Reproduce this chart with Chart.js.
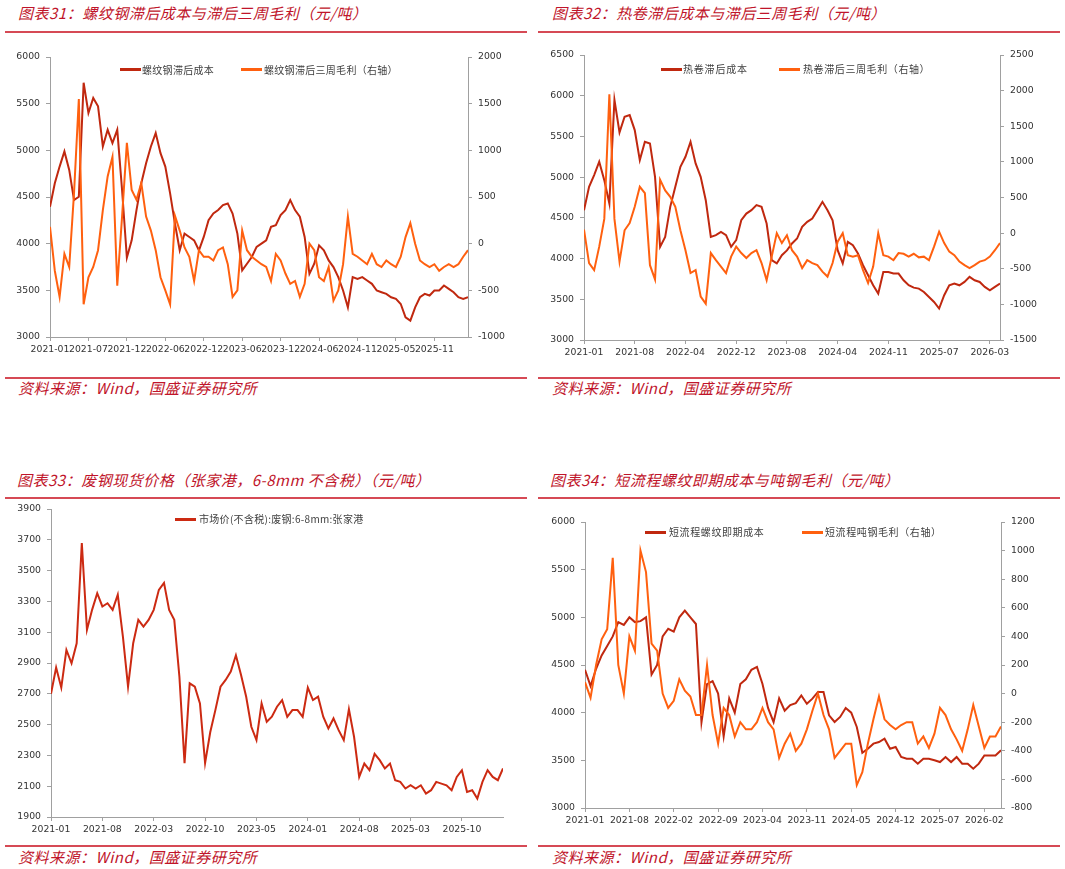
<!DOCTYPE html>
<html><head><meta charset="utf-8">
<script src="https://cdn.jsdelivr.net/npm/chart.js@4.4.1/dist/chart.umd.min.js"></script>
<style>
body{margin:0;background:#fff;width:1065px;height:869px;position:relative;overflow:hidden;font-family:"Noto Sans CJK SC",sans-serif;}
.title,.src{position:absolute;color:#c0142a;font-style:italic;font-size:15px;line-height:18px;white-space:nowrap;letter-spacing:0.5px;}
.rule{position:absolute;height:2px;background:#d64a55;}
canvas{position:absolute;}
.lg{position:absolute;font-size:10px;line-height:12px;color:#404040;white-space:nowrap;letter-spacing:0.3px;}
.sw{position:absolute;height:3px;width:21px;}
</style></head><body>

<div class="title" style="left:18px;top:4px;">图表31：螺纹钢滞后成本与滞后三周毛利（元/吨）</div>
<div class="rule" style="left:5px;top:31px;width:522px;"></div>
<div class="title" style="left:552px;top:4px;">图表32：热卷滞后成本与滞后三周毛利（元/吨）</div>
<div class="rule" style="left:538px;top:31px;width:522px;"></div>
<div class="rule" style="left:5px;top:377px;width:522px;"></div>
<div class="rule" style="left:538px;top:377px;width:522px;"></div>
<div class="src" style="left:18px;top:379px;">资料来源：Wind，国盛证券研究所</div>
<div class="src" style="left:552px;top:379px;">资料来源：Wind，国盛证券研究所</div>

<div class="title" style="left:17px;top:471px;">图表33：废钢现货价格（张家港，6-8mm 不含税）（元/吨）</div>
<div class="rule" style="left:5px;top:497px;width:522px;"></div>
<div class="title" style="left:550px;top:471px;">图表34：短流程螺纹即期成本与吨钢毛利（元/吨）</div>
<div class="rule" style="left:538px;top:497px;width:522px;"></div>
<div class="rule" style="left:5px;top:845px;width:522px;"></div>
<div class="rule" style="left:538px;top:845px;width:522px;"></div>
<div class="src" style="left:18px;top:848px;">资料来源：Wind，国盛证券研究所</div>
<div class="src" style="left:552px;top:848px;">资料来源：Wind，国盛证券研究所</div>

<canvas id="c1" width="532" height="330" style="left:0px;top:40px;"></canvas>
<canvas id="c2" width="533" height="330" style="left:532px;top:40px;"></canvas>
<canvas id="c3" width="532" height="345" style="left:0px;top:495px;"></canvas>
<canvas id="c4" width="533" height="345" style="left:532px;top:495px;"></canvas>

<!-- legends -->
<div class="sw" style="left:120px;top:68px;background:#c0280f;"></div>
<div class="lg" style="left:142px;top:64px;">螺纹钢滞后成本</div>
<div class="sw" style="left:241px;top:68px;background:#ff600f;"></div>
<div class="lg" style="left:264px;top:64px;">螺纹钢滞后三周毛利（右轴）</div>

<div class="sw" style="left:661px;top:68px;background:#c0280f;"></div>
<div class="lg" style="left:683px;top:63px;letter-spacing:0.8px;">热卷滞后成本</div>
<div class="sw" style="left:779px;top:68px;background:#ff600f;"></div>
<div class="lg" style="left:803px;top:63px;letter-spacing:0.6px;">热卷滞后三周毛利（右轴）</div>

<div class="sw" style="left:175px;top:518px;background:#cc2a12;"></div>
<div class="lg" style="left:199px;top:513px;">市场价(不含税):废钢:6-8mm:张家港</div>

<div class="sw" style="left:645px;top:531px;background:#c0280f;"></div>
<div class="lg" style="left:669px;top:526px;letter-spacing:0.6px;">短流程螺纹即期成本</div>
<div class="sw" style="left:802px;top:531px;background:#ff600f;"></div>
<div class="lg" style="left:825px;top:526px;letter-spacing:0.6px;">短流程吨钢毛利（右轴）</div>

<script>
// ---------- data ----------
const p1Ticks = ['2021-01','2021-07','2021-12','2022-06','2022-12','2023-06','2023-12','2024-06','2024-11','2025-05','2025-11'];
const rebarLagCost = [4395,4647,4826,4988,4790,4467,4503,5724,5400,5562,
 5472,5041,5220,5077,5220,4575,3850,4036,4360,4647,
 4862,5041,5185,4970,4826,4539,4216,3929,4108,4072,
 4036,3929,4072,4252,4323,4360,4413,4431,4323,4108,
 3713,3785,3857,3965,4000,4036,4180,4198,4306,4360,
 4467,4360,4288,4072,3677,3785,3982,3929,3821,3749,
 3641,3498,3318,3641,3623,3641,3605,3570,3498,3480,
 3462,3426,3408,3354,3211,3175,3318,3426,3462,3444,
 3498,3498,3552,3516,3480,3426,3408,3426];
const rebarLagMargin = [180,-290,-570,-110,-250,540,1550,-650,-360,-250,
 -70,360,720,930,-450,290,1080,575,470,650,
 290,140,-70,-360,-500,-650,300,140,-40,-140,
 -400,-70,-140,-140,-180,-70,-40,-220,-570,-500,
 140,-70,-140,-180,-220,-250,-400,-110,-180,-320,
 -430,-400,-570,-430,0,-70,-360,-400,-250,-610,
 -500,-220,290,-110,-140,-180,-220,-110,-220,-250,
 -180,-220,-250,-140,70,220,0,-180,-220,-250,
 -220,-290,-250,-220,-250,-220,-140,-70];

const p2Ticks = ['2021-01','2021-08','2022-04','2022-12','2023-08','2024-04','2024-11','2025-07','2026-03'];
const hrcLagCost = [4594,4881,5025,5189,4963,4676,5950,5550,5742,5762,
 5578,5209,5434,5414,5004,4144,4266,4635,4881,5127,
 5250,5434,5168,5004,4717,4266,4287,4328,4287,4144,
 4226,4471,4553,4594,4656,4635,4430,3980,3940,4041,
 4100,4185,4246,4390,4451,4492,4594,4697,4594,4471,
 4103,3940,4205,4164,4062,3918,3795,3672,3570,3836,
 3836,3816,3816,3734,3672,3643,3631,3590,3529,3467,
 3386,3550,3672,3693,3672,3713,3775,3734,3713,3652,
 3611,3652,3693];
const hrcLagMargin = [50,-420,-520,-190,200,1950,200,-400,40,140,
 370,650,560,-450,-650,750,600,510,370,40,
 -240,-560,-520,-890,-990,-280,-380,-470,-560,-330,
 -190,-280,-350,-280,-240,-420,-660,-330,0,-140,
 -30,-240,-330,-490,-380,-420,-450,-540,-610,-420,
 -120,0,-310,-330,-310,-520,-700,-470,0,-310,
 -330,-380,-280,-290,-330,-290,-340,-330,-380,-190,
 20,-140,-260,-310,-400,-450,-490,-450,-400,-380,
 -330,-240,-140];

const p3Ticks = ['2021-01','2021-08','2022-03','2022-10','2023-05','2024-01','2024-08','2025-03','2025-10'];
const scrapPrice = [2700,2870,2740,2985,2898,3028,3679,3115,3245,3353,
 3267,3288,3245,3343,3071,2746,3028,3180,3137,3180,
 3245,3375,3420,3245,3180,2811,2250,2768,2746,2638,
 2250,2450,2594,2746,2790,2844,2950,2822,2681,2486,
 2400,2638,2518,2551,2616,2659,2551,2594,2594,2551,
 2740,2659,2681,2551,2475,2540,2464,2399,2600,2421,
 2160,2247,2204,2310,2269,2215,2247,2139,2128,2085,
 2106,2085,2106,2052,2074,2128,2117,2106,2074,2160,
 2204,2063,2074,2020,2128,2204,2160,2139,2215];

const p4Ticks = ['2021-01','2021-08','2022-02','2022-09','2023-04','2023-11','2024-05','2024-12','2025-07','2026-02'];
const eafRebarCost = [4450,4280,4460,4600,4700,4800,4950,4920,5000,4950,
 4960,5000,4400,4500,4800,4880,4850,5000,5070,5000,
 4930,3900,4300,4330,4200,3750,4150,4000,4300,4350,
 4450,4480,4300,4050,3900,4150,4020,4080,4100,4180,
 4094,4147,4217,4217,3972,3902,3955,4050,4000,3850,
 3580,3622,3675,3692,3727,3622,3640,3535,3517,3517,
 3465,3517,3517,3500,3482,3535,3482,3535,3465,3465,
 3412,3465,3552,3552,3552,3605];
const eafMargin = [80,-30,200,380,450,950,200,0,400,300,
 1000,850,350,300,0,-100,-50,100,20,-20,
 -150,-150,200,-150,-350,-100,-150,-300,-200,-250,
 -250,-200,-100,-200,-250,-450,-350,-280,-400,-350,
 -250,-120,0,-150,-250,-450,-400,-350,-350,-640,
 -550,-350,-180,-20,-180,-220,-250,-220,-200,-200,
 -350,-300,-380,-280,-100,-150,-250,-320,-400,-250,
 -80,-230,-380,-300,-300,-230];

// ---------- style ----------
const DARK = '#c0280f', ORANGE = '#ff600f', SCRAP = '#cc2a12';
const AXIS = '#a0a0a0', TXT = '#333333';
const FONT = {family:'DejaVu Sans', size:9.3};

function pts(arr){ return arr.map((v,i)=>({x:i,y:v})); }

function xAxis(labels, step, max, h){
  return {type:'linear', min:0, max:max,
    afterFit:s=>{s.height=h;},
    grid:{display:true, drawOnChartArea:false, drawTicks:true, tickLength:4, color:AXIS},
    border:{display:true, color:AXIS, width:1},
    ticks:{stepSize:step, autoSkip:false, maxRotation:0, minRotation:0, includeBounds:false,
      padding:3, font:FONT, color:TXT,
      callback:(v)=>{const k=Math.round(v/step); return (Math.abs(v-k*step)<1e-6 && labels[k]!==undefined)?labels[k]:'';}}};
}
function yAxis(pos, min, max, step, w){
  return {type:'linear', position:pos, min:min, max:max,
    afterFit:s=>{s.width=w;},
    grid:{display:true, drawOnChartArea:false, drawTicks:true, tickLength:4, color:AXIS},
    border:{display:true, color:AXIS, width:1},
    ticks:{stepSize:step, autoSkip:false, padding:6, font:FONT, color:TXT,
      callback:(v)=>String(v)}};
}
function line(data, color, axis, order){
  return {data:pts(data), borderColor:color, backgroundColor:color, borderWidth:2,
    pointRadius:0, tension:0, fill:false, yAxisID:axis, order:order};
}
function make(id, datasets, scales, pad){
  new Chart(document.getElementById(id), {
    type:'line',
    data:{datasets:datasets},
    options:{responsive:false, animation:false, devicePixelRatio:1, events:[],
      layout:{padding:pad},
      plugins:{legend:{display:false}, tooltip:{enabled:false}},
      scales:scales}
  });
}

make('c1',
  [line(rebarLagCost, DARK, 'y', 1), line(rebarLagMargin, ORANGE, 'y1', 0)],
  {x:xAxis(p1Ticks, 8, rebarLagCost.length-1, 33),
   y:yAxis('left', 3000, 6000, 500, 50),
   y1:yAxis('right', -1000, 2000, 500, 64)},
  {top:17, left:0, right:0, bottom:0});

make('c2',
  [line(hrcLagCost, DARK, 'y', 1), line(hrcLagMargin, ORANGE, 'y1', 0)],
  {x:xAxis(p2Ticks, 10, hrcLagCost.length-1, 30),
   y:yAxis('left', 3000, 6500, 500, 52),
   y1:yAxis('right', -1500, 2500, 500, 65)},
  {top:15, left:0, right:0, bottom:0});

make('c3',
  [line(scrapPrice, SCRAP, 'y', 0)],
  {x:xAxis(p3Ticks, 10, scrapPrice.length-1, 23),
   y:yAxis('left', 1900, 3900, 200, 51)},
  {top:14, left:0, right:29, bottom:0});

make('c4',
  [line(eafRebarCost, DARK, 'y', 1), line(eafMargin, ORANGE, 'y1', 0)],
  {x:xAxis(p4Ticks, 8, eafRebarCost.length-1, 32),
   y:yAxis('left', 3000, 6000, 500, 53),
   y1:yAxis('right', -800, 1200, 200, 64)},
  {top:27, left:0, right:0, bottom:0});
</script>
</body></html>
